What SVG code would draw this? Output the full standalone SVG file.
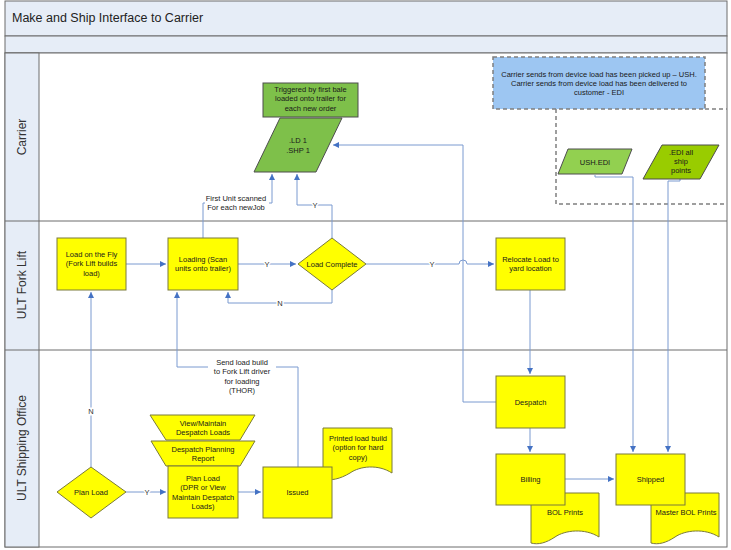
<svg xmlns="http://www.w3.org/2000/svg" width="731" height="550" viewBox="0 0 731 550">
<defs>
<style>
.hdr{fill:#e6edf7;stroke:#6d6d6d;stroke-width:1}
.lane{fill:#ffffff;stroke:#6d6d6d;stroke-width:1}
.y{fill:#ffff00;stroke:#7a7a3a;stroke-width:1}
.g{fill:#7ec04a;stroke:#4d4d4d;stroke-width:1}
.c{fill:none;stroke:#7a9ad0;stroke-width:1}
.d{fill:none;stroke:#7f7f7f;stroke-width:1.5;stroke-dasharray:4 3}
text{font-family:"Liberation Sans",Arial,sans-serif;font-size:7.5px;fill:#1a1a1a;text-anchor:middle}
.lt{font-size:12px;fill:#333}
.lbl{stroke:#fff;stroke-width:3;paint-order:stroke;fill:#333}
</style>
<marker id="ah" markerWidth="6" markerHeight="6" refX="6" refY="3" orient="auto" markerUnits="userSpaceOnUse">
<path d="M0,0 L6,3 L0,6 z" fill="#4472c4"/>
</marker>
</defs>
<rect x="0" y="0" width="731" height="550" fill="#ffffff"/>
<g id="frame">
<rect class="hdr" x="5" y="1" width="722" height="35"/>
<text x="12" y="22" style="font-size:12.5px;text-anchor:start;fill:#222">Make and Ship Interface to Carrier</text>
<rect class="hdr" x="5" y="36" width="722" height="17"/>
<rect class="lane" x="5" y="53" width="722" height="494"/>
<rect class="hdr" x="5" y="53" width="34" height="494"/>
<line x1="5" y1="221" x2="727" y2="221" stroke="#6d6d6d"/>
<line x1="5" y1="350" x2="727" y2="350" stroke="#6d6d6d"/>
<text class="lt" transform="translate(26,137) rotate(-90)">Carrier</text>
<text class="lt" transform="translate(26,285) rotate(-90)">ULT Fork Lift</text>
<text class="lt" transform="translate(26,448) rotate(-90)">ULT Shipping Office</text>
</g>
<g id="dashed-region">
<path class="d" d="M556,109 L556,204 L727,204"/>
<path class="d" d="M705,109 L727,109"/>
</g>
<g id="connectors">
<path class="c" d="M126,264 L166,264" marker-end="url(#ah)"/>
<path class="c" d="M238,264 L296,264" marker-end="url(#ah)"/>
<path class="c" d="M332,290 L332,303 L228,303 L228,292" marker-end="url(#ah)"/>
<path class="c" d="M203,238 L203,203 L272,203 L272,174" marker-end="url(#ah)"/>
<path class="c" d="M332,238 L332,205 L297,205 L297,174" marker-end="url(#ah)"/>
<path class="c" d="M366,264 L459,264 A4,4 0 0 1 467,264 L494,264" marker-end="url(#ah)"/>
<path class="c" d="M496,402 L463,402 L463,145 L333,145" marker-end="url(#ah)"/>
<path class="c" d="M530,290 L530,374" marker-end="url(#ah)"/>
<path class="c" d="M530,428 L530,452" marker-end="url(#ah)"/>
<path class="c" d="M565,479 L614,479" marker-end="url(#ah)"/>
<path class="c" d="M595,175 L595,177 L633,177 L633,452" marker-end="url(#ah)"/>
<path class="c" d="M680,179 L680,181 L668,181 L668,452" marker-end="url(#ah)"/>
<path class="c" d="M91,467 L91,292" marker-end="url(#ah)"/>
<path class="c" d="M126,492 L166,492" marker-end="url(#ah)"/>
<path class="c" d="M238,492 L261,492" marker-end="url(#ah)"/>
<path class="c" d="M298,467 L298,367 L177,367 L177,292" marker-end="url(#ah)"/>
<text class="lbl" x="267" y="267">Y</text>
<text class="lbl" x="280" y="306">N</text>
<text class="lbl" x="315" y="208">Y</text>
<text class="lbl" x="432" y="267">Y</text>
<text class="lbl" x="91" y="414">N</text>
<text class="lbl" x="147" y="495">Y</text>
<rect x="205" y="192" width="64" height="20" fill="#fff"/>
<text x="236" y="200.5">First Unit scanned</text>
<text x="236" y="210">For each newJob</text>
<rect x="208" y="355" width="68" height="40" fill="#fff"/>
<text x="242" y="364.5">Send load build</text>
<text x="242" y="374">to Fork Lift driver</text>
<text x="242" y="383.5">for loading</text>
<text x="242" y="393">(THOR)</text>
</g>
<g id="triggered">
<rect class="g" x="263" y="83" width="95" height="34"/>
<text x="310.5" y="91.5">Triggered by first bale</text>
<text x="310.5" y="101">loaded onto trailer for</text>
<text x="310.5" y="110.5">each new order</text>
</g>
<g id="ld1">
<polygon class="g" points="280,118 342,118 316,172 254,172"/>
<text x="298" y="142.5">.LD 1</text>
<text x="298" y="152.5">.SHP 1</text>
</g>
<g id="carrier-note">
<rect x="493" y="57" width="212" height="52" fill="#9dc6f2" stroke="#7f7f7f" stroke-width="1.5" stroke-dasharray="4 3"/>
<text x="599" y="76.5">Carrier sends from device load has been picked up – USH.</text>
<text x="599" y="85.5">Carrier sends from device load has been delivered to</text>
<text x="599" y="94.5">customer - EDI</text>
</g>
<g id="ush-edi">
<polygon points="568,149 632,149 622,174 558,174" fill="#92d050" stroke="#4d4d4d" stroke-width="1"/>
<text x="595" y="164.5">USH.EDI</text>
</g>
<g id="edi-all">
<polygon points="662,145 719,145 700,179 643,179" fill="#99cc00" stroke="#4d4d4d" stroke-width="1"/>
<text x="681" y="154.5">.EDI all</text>
<text x="681" y="164">ship</text>
<text x="681" y="173">points</text>
</g>
<g id="load-on-fly">
<rect class="y" x="57" y="238" width="69" height="52"/>
<text x="91.5" y="256.5">Load on the Fly</text>
<text x="91.5" y="266">(Fork Lift builds</text>
<text x="91.5" y="275.5">load)</text>
</g>
<g id="loading">
<rect class="y" x="168" y="238" width="70" height="52"/>
<text x="203" y="261.5">Loading (Scan</text>
<text x="203" y="271">units onto trailer)</text>
</g>
<g id="load-complete">
<polygon class="y" points="332,238 366,264 332,290 298,264"/>
<text x="332" y="266.5">Load Complete</text>
</g>
<g id="relocate">
<rect class="y" x="496" y="238" width="69" height="52"/>
<text x="530.5" y="261.5">Relocate Load to</text>
<text x="530.5" y="271">yard location</text>
</g>
<g id="despatch">
<rect class="y" x="496" y="376" width="69" height="52"/>
<text x="530.5" y="404.5">Despatch</text>
</g>
<g id="bol-prints">
<path class="y" d="M531,493 L599,493 L599,537 C585,528 565,530 555,537 C546,543 538,545 531,543 Z"/>
<text x="565" y="514.5">BOL Prints</text>
</g>
<g id="billing">
<rect class="y" x="496" y="454" width="69" height="51"/>
<text x="530.5" y="481.5">Billing</text>
</g>
<g id="master-bol">
<path class="y" d="M651,493 L719,493 L719,537 C705,528 685,530 675,537 C666,543 658,545 651,543 Z"/>
<text x="686" y="514.5">Master BOL Prints</text>
</g>
<g id="shipped">
<rect class="y" x="616" y="454" width="69" height="51"/>
<text x="650.5" y="481.5">Shipped</text>
</g>
<g id="plan-load-decision">
<polygon class="y" points="91,467 126,492 91,518 57,492"/>
<text x="91" y="494.5">Plan Load</text>
</g>
<g id="view-maintain">
<polygon class="y" points="150,415 255,415 240,440 166,440"/>
<text x="203" y="425.5">View/Maintain</text>
<text x="203" y="434.5">Despatch Loads</text>
</g>
<g id="despatch-planning">
<polygon class="y" points="151,441 255,441 240,466 166,466"/>
<text x="203" y="451.5">Despatch Planning</text>
<text x="203" y="460.5">Report</text>
</g>
<g id="plan-load">
<rect class="y" x="168" y="466" width="70" height="52"/>
<text x="203" y="480.5">Plan Load</text>
<text x="203" y="490">(DPR or View</text>
<text x="203" y="499.5">Maintain Despatch</text>
<text x="203" y="509">Loads)</text>
</g>
<g id="printed-load-build">
<path class="y" d="M323,428 L392,428 L392,473 C378,464 360,466 350,473 C340,479 331,481 323,479 Z"/>
<text x="358" y="440.5">Printed load build</text>
<text x="358" y="450">(option for hard</text>
<text x="358" y="459.5">copy)</text>
</g>
<g id="issued">
<rect class="y" x="263" y="467" width="69" height="51"/>
<text x="297.5" y="494.5">Issued</text>
</g>
</svg>
